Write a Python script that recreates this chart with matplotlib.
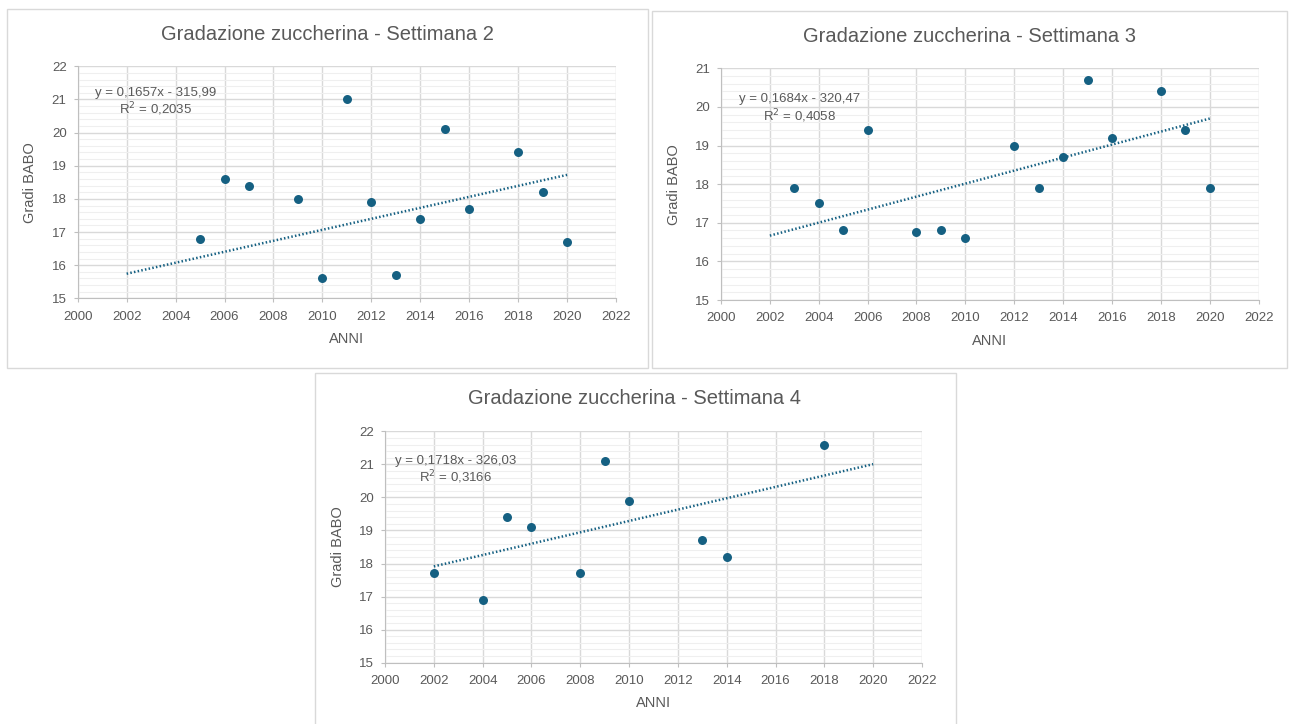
import matplotlib.pyplot as plt
from matplotlib.patches import Rectangle
from matplotlib.ticker import MultipleLocator
import numpy as np

# Dati: gradazione zuccherina (gradi BABO) per anno
anni_sett2 = [2005, 2006, 2007, 2009, 2010, 2011, 2012, 2013, 2014, 2015, 2016, 2018, 2019, 2020]
babo_sett2 = [16.8, 18.6, 18.4, 18.0, 15.6, 21.0, 17.9, 15.7, 17.4, 20.1, 17.7, 19.4, 18.2, 16.7]

anni_sett3 = [2003, 2004, 2005, 2006, 2008, 2009, 2010, 2012, 2013, 2014, 2015, 2016, 2018, 2019, 2020]
babo_sett3 = [17.9, 17.5, 16.8, 19.4, 16.75, 16.8, 16.6, 19.0, 17.9, 18.7, 20.7, 19.2, 20.4, 19.4, 17.9]

anni_sett4 = [2002, 2004, 2005, 2006, 2008, 2009, 2010, 2013, 2014, 2018]
babo_sett4 = [17.7, 16.9, 19.4, 19.1, 17.7, 21.1, 19.9, 18.7, 18.2, 21.6]

# Coefficienti delle linee di tendenza (etichette del grafico)
trend_sett2 = (0.1657, -315.99, 0.2035)
trend_sett3 = (0.1684, -320.47, 0.4058)
trend_sett4 = (0.1718, -326.03, 0.3166)
trend_range = (2002, 2020)

BLU = '#156082'
GRIGIO = '#595959'
FONT = ['Liberation Sans', 'DejaVu Sans']
W, H = 1289, 724

plt.rcParams['font.family'] = FONT

fig = plt.figure(figsize=(W / 100, H / 100), dpi=100)


def px_rect(x0, y0, x1, y1):
    # da pixel (origine in alto a sinistra) a frazioni della figura
    return [x0 / W, 1 - y1 / H, (x1 - x0) / W, (y1 - y0) / H]


def build_chart(ax_px, box_px, title, title_px, anni, babo, trend, ymax, eq_pos):
    l, b, w, h = px_rect(*box_px)
    fig.patches.append(Rectangle((l, b), w, h, transform=fig.transFigure,
                                 fill=False, edgecolor='#D9D9D9', lw=1))
    ax = fig.add_axes(px_rect(*ax_px))
    ax.set_xlim(2000, 2022)
    ax.set_ylim(15, ymax)
    ax.xaxis.set_major_locator(MultipleLocator(2))
    ax.yaxis.set_major_locator(MultipleLocator(1))
    ax.yaxis.set_minor_locator(MultipleLocator(0.2))
    ax.grid(which='major', color='#D9D9D9', lw=1)
    ax.grid(which='minor', axis='y', color='#EFEFEF', lw=0.8)
    ax.set_axisbelow(True)
    for s in ['top', 'right']:
        ax.spines[s].set_visible(False)
    for s in ['left', 'bottom']:
        ax.spines[s].set_color('#BFBFBF')
    ax.tick_params(which='major', length=3, color='#BFBFBF', labelsize=9.5,
                   labelcolor=GRIGIO)
    ax.tick_params(axis='x', pad=6)
    ax.tick_params(axis='y', pad=5)
    ax.tick_params(which='minor', length=0)

    slope, inter, r2 = trend
    xt = np.array(trend_range)
    ax.plot(xt, slope * xt + inter, color=BLU, lw=1.8, ls=(0, (0.6, 0.9)),
            dash_capstyle='butt', zorder=2)
    ax.scatter(anni, babo, s=42, color=BLU, zorder=3, linewidths=0)

    eq = 'y = {:.4f}x - {:.2f}'.format(slope, -inter).replace('.', ',')
    ax.text(eq_pos[0], eq_pos[1], eq, ha='center', va='center', fontsize=9.5, color=GRIGIO)
    ax.text(eq_pos[0], eq_pos[2], 'R$^2$ = {:.4f}'.format(r2).replace('.', ','),
            ha='center', va='center', fontsize=9.5, color=GRIGIO)

    ax.set_ylabel('Gradi BABO', fontsize=10.5, color=GRIGIO)
    ax.yaxis.set_label_coords(-0.075, 0.5)
    ax.text(0.5, -0.175, 'ANNI', transform=ax.transAxes, ha='center', va='center',
            fontsize=10.5, color=GRIGIO)
    fig.text(title_px[0] / W, 1 - title_px[1] / H, title, ha='center', va='center',
             fontsize=14.5, color=GRIGIO,
             family=['Liberation Sans Narrow', 'Liberation Sans', 'DejaVu Sans'])
    return ax


build_chart((77.7, 66.3, 616, 298.3), (7, 9, 648, 368),
            'Gradazione zuccherina - Settimana 2', (327, 34),
            anni_sett2, babo_sett2, trend_sett2, 22, (2003.2, 21.2, 20.71))
build_chart((721, 68.3, 1258.6, 300), (652, 11, 1287, 368),
            'Gradazione zuccherina - Settimana 3', (969.5, 36),
            anni_sett3, babo_sett3, trend_sett3, 21, (2003.23, 20.2, 19.77))
build_chart((385, 431.3, 922, 662.7), (315, 373, 956, 740),
            'Gradazione zuccherina - Settimana 4', (634.5, 399),
            anni_sett4, babo_sett4, trend_sett4, 22, (2002.9, 21.11, 20.62))

fig.savefig('out.png', dpi=100)
